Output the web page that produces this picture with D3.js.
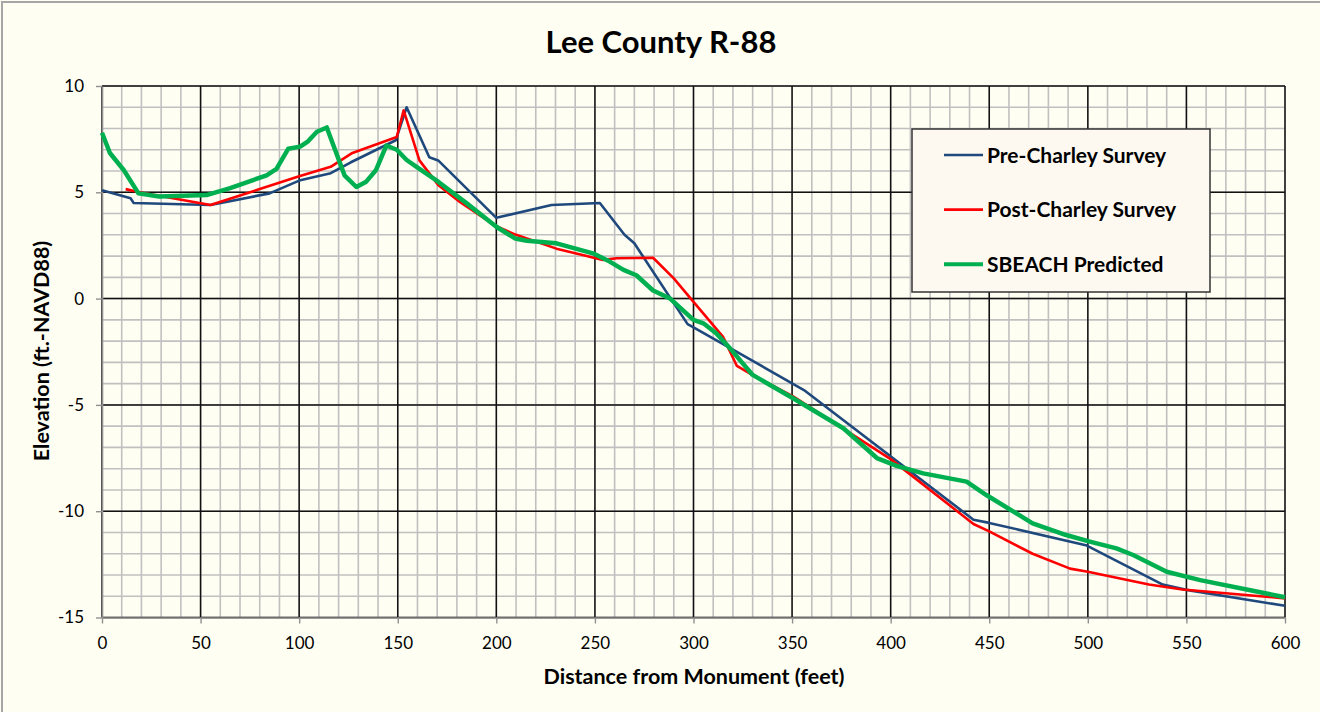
<!DOCTYPE html>
<html>
<head>
<meta charset="utf-8">
<script src="https://cdn.jsdelivr.net/npm/d3@7"></script>
<style>
  body { margin: 0; background: #fefef2; }
  svg { display: block; }
  text { font-family: Lato, "Open Sans", sans-serif; fill: #000; }
</style>
</head>
<body>
<div id="chart"></div>
<script>
// profile data (distance ft, elevation ft NAVD88)
var preCharley = [[0,5.1],[14.5,4.72],[16,4.5],[55,4.4],[85,4.95],[100,5.55],[116,5.9],[126,6.4],[149,7.45],
  [154.5,9.0],[166,6.65],[170.5,6.5],[200,3.8],[228,4.4],[252.5,4.5],[265,3.0],[270,2.6],[297,-1.2],[300,-1.35],
  [356,-4.3],[442,-10.4],[450,-10.55],[499,-11.6],[538,-13.45],[550,-13.7],[600,-14.45]];

var postCharley = [[12,5.15],[19,5.0],[55,4.4],[100,5.75],[116,6.2],[127,6.85],[149.5,7.6],[153,8.85],[161,6.5],
  [170.5,5.35],[181.5,4.55],[200,3.4],[210,3.0],[230.5,2.35],[254,1.82],[261,1.9],[279.5,1.92],[290,0.95],
  [300,-0.15],[315,-1.8],[322,-3.17],[330,-3.6],[350.5,-4.6],[400,-7.55],[442,-10.6],[450,-10.95],[472,-12.0],
  [491,-12.7],[500,-12.85],[531,-13.45],[548,-13.68],[600,-14.1]];

var sbeach = [[0,7.8],[4,6.85],[11,6.05],[18.5,4.95],[29,4.8],[53,4.87],[65,5.2],[83.5,5.8],[88.5,6.1],[94.5,7.05],
  [100.5,7.15],[104.5,7.4],[109,7.85],[114,8.05],[123,5.8],[129,5.25],[134,5.5],[139,6.05],[144.2,7.2],[149.5,7.0],
  [154.5,6.52],[161,6.1],[170.5,5.5],[185,4.48],[200,3.38],[209.5,2.83],[215.5,2.72],[230.5,2.6],[249,2.13],
  [257.5,1.74],[264.5,1.35],[271,1.1],[279.5,0.38],[288,0.01],[300,-1.0],[305,-1.16],[311.5,-1.63],[318.5,-2.34],
  [330,-3.59],[350.5,-4.69],[376,-6.1],[393,-7.5],[403,-7.87],[416.5,-8.22],[438.5,-8.61],[448.5,-9.24],
  [472,-10.57],[489,-11.12],[501,-11.43],[514.5,-11.75],[523,-12.06],[540,-12.85],[557,-13.24],[600,-14.05]];

var seriesNames = ["Pre-Charley Survey", "Post-Charley Survey", "SBEACH Predicted"];
var seriesColors = ["#1f497d", "#ff0000", "#00b050"];
var seriesWidths = [2.6, 2.6, 4.5];

var xTicks = [0, 50, 100, 150, 200, 250, 300, 350, 400, 450, 500, 550, 600];
var yTicks = [-15, -10, -5, 0, 5, 10];

var width = 1320, height = 712;
var svg = d3.select("#chart").append("svg")
  .attr("width", width)
  .attr("height", height);

// chart frame (left/top edges visible)
svg.append("rect")
  .attr("x", 2).attr("y", 2)
  .attr("width", width + 10).attr("height", height + 10)
  .attr("fill", "#fefef2")
  .attr("stroke", "#a6a6a6")
  .attr("stroke-width", 2);

var x = d3.scaleLinear().domain([0, 600]).range([102, 1285]);
var y = d3.scaleLinear().domain([-15, 10]).range([617.5, 86]);

// minor grid
var g = svg.append("g");
g.append("g")
  .selectAll("line")
  .data(d3.range(0, 601, 10))
  .join("line")
  .attr("x1", d => x(d)).attr("x2", d => x(d))
  .attr("y1", y(10)).attr("y2", y(-15))
  .attr("stroke", "#c0c0c0").attr("stroke-width", 1.6);
g.append("g")
  .selectAll("line")
  .data(d3.range(-15, 11, 1))
  .join("line")
  .attr("x1", x(0)).attr("x2", x(600))
  .attr("y1", d => y(d)).attr("y2", d => y(d))
  .attr("stroke", "#c0c0c0").attr("stroke-width", 1.6);

// major grid
g.append("g")
  .selectAll("line")
  .data(xTicks)
  .join("line")
  .attr("x1", d => x(d)).attr("x2", d => x(d))
  .attr("y1", y(10)).attr("y2", y(-15))
  .attr("stroke", "#111").attr("stroke-width", 1.5);
g.append("g")
  .selectAll("line")
  .data(yTicks)
  .join("line")
  .attr("x1", x(0)).attr("x2", x(600))
  .attr("y1", d => y(d)).attr("y2", d => y(d))
  .attr("stroke", "#111").attr("stroke-width", 1.5);

// axes (plain hyphen for negatives, like the original)
var fmt = d => String(d);
var xAxis = svg.append("g")
  .attr("transform", "translate(0," + y(-15) + ")")
  .call(d3.axisBottom(x).tickValues(xTicks).tickFormat(fmt).tickSize(6).tickPadding(13).tickSizeOuter(0));
var yAxis = svg.append("g")
  .attr("transform", "translate(" + x(0) + ",0)")
  .call(d3.axisLeft(y).tickValues(yTicks).tickFormat(fmt).tickSize(6).tickPadding(12).tickSizeOuter(0));

[xAxis, yAxis].forEach(function(a) {
  a.select(".domain").attr("stroke", "#909090").attr("stroke-width", 1.6);
  a.selectAll(".tick line").attr("stroke", "#909090").attr("stroke-width", 1.4);
  a.selectAll(".tick text").style("font-family", "Lato, sans-serif").style("font-size", "17px").attr("fill", "#000");
});

// lines
var line = d3.line().x(d => x(d[0])).y(d => y(d[1]));
[preCharley, postCharley, sbeach].forEach(function(data, i) {
  svg.append("path")
    .datum(data)
    .attr("fill", "none")
    .attr("stroke", seriesColors[i])
    .attr("stroke-width", seriesWidths[i])
    .attr("stroke-linejoin", "round")
    .attr("d", line);
});

// title + axis titles
svg.append("text")
  .attr("x", 661).attr("y", 53)
  .attr("text-anchor", "middle")
  .style("font-size", "31px").style("font-weight", "bold")
  .text("Lee County R-88");

svg.append("text")
  .attr("x", 694).attr("y", 684)
  .attr("text-anchor", "middle")
  .style("font-size", "21.5px").style("font-weight", "bold")
  .text("Distance from Monument (feet)");

svg.append("text")
  .attr("transform", "translate(49,351) rotate(-90)")
  .attr("text-anchor", "middle")
  .style("font-size", "21.5px").style("font-weight", "bold")
  .text("Elevation (ft.-NAVD88)");

// legend
var legend = svg.append("g");
legend.append("rect")
  .attr("x", 912).attr("y", 129)
  .attr("width", 298).attr("height", 163)
  .attr("fill", "#fdf9f1")
  .attr("stroke", "#333").attr("stroke-width", 1.5);

var rows = legend.selectAll("g.row")
  .data(seriesNames)
  .join("g")
  .attr("class", "row")
  .attr("transform", (d, i) => "translate(0," + (155 + i * 54.6) + ")");
rows.append("line")
  .attr("x1", 944).attr("x2", 983)
  .attr("stroke", (d, i) => seriesColors[i])
  .attr("stroke-width", (d, i) => i === 2 ? 4 : 2.6);
rows.append("text")
  .attr("x", 987).attr("y", 7.5)
  .style("font-size", "21px").style("font-weight", "bold")
  .text(d => d);
</script>
</body>
</html>
